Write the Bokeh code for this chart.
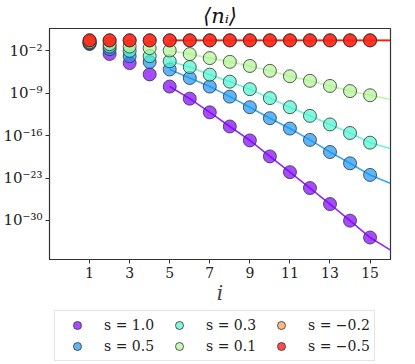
import numpy as np
from bokeh.plotting import figure
from bokeh.layouts import column
from bokeh.models import Range1d, FixedTicker, Legend, LegendItem
from bokeh.embed import file_html
from bokeh.resources import INLINE

# ---- data (log10 of <n_i>) ----
i_vals = list(range(1, 16))
fit_i = list(range(5, 17))

labels = ["s = 1.0", "s = 0.5", "s = 0.3", "s = 0.1", "s = −0.2", "s = −0.5"]
colors = ["#8000ff", "#1996f3", "#4df3ce", "#b2f396", "#ff964f", "#ff0000"]

log_n_s10 = [-0.86, -2.51, -4.01, -5.88, -7.89, -9.89, -12.15, -14.49, -16.79,
             -19.43, -22.03, -24.66, -27.30, -30.04, -32.83]
log_n_s05 = [-0.74, -1.71, -2.87, -3.84, -5.07, -6.48, -7.89, -9.55, -11.30,
             -13.12, -14.83, -16.70, -18.70, -20.57, -22.49]
log_n_s03 = [-0.62, -1.28, -2.00, -2.87, -3.72, -4.66, -5.92, -7.08, -8.32,
             -9.80, -11.30, -12.73, -14.15, -15.56, -17.16]
log_n_s01 = [-0.52, -0.89, -1.28, -1.54, -1.93, -2.53, -3.19, -3.81, -4.49,
             -5.29, -6.19, -6.94, -7.79, -8.64, -9.33]
log_n_sm02 = [-0.26] * 15
log_n_sm05 = [-0.26] * 15

fit_s10 = [-7.89, -9.89, -12.15, -14.49, -16.79, -19.43, -22.03, -24.66,
           -27.30, -30.04, -32.83, -34.88]
fit_s05 = [-5.07, -6.48, -7.89, -9.55, -11.30, -13.12, -14.83, -16.70,
           -18.70, -20.57, -22.49, -23.86]
fit_s03 = [-3.72, -4.66, -5.92, -7.08, -8.32, -9.80, -11.30, -12.73,
           -14.15, -15.56, -17.16, -18.12]
fit_s01 = [-1.93, -2.53, -3.19, -3.81, -4.49, -5.29, -6.19, -6.94,
           -7.79, -8.64, -9.33, -10.00]
fit_sm02 = [-0.26] * 12
fit_sm05 = [-0.26] * 12

points = [log_n_s10, log_n_s05, log_n_s03, log_n_s01, log_n_sm02, log_n_sm05]
fits = [fit_s10, fit_s05, fit_s03, fit_s01, fit_sm02, fit_sm05]

y_ticks = [1e-2, 1e-9, 1e-16, 1e-23, 1e-30]
y_tick_labels = ["10⁻²", "10⁻⁹", "10⁻¹⁶", "10⁻²³", "10⁻³⁰"]
x_ticks = [1, 3, 5, 7, 9, 11, 13, 15]

SERIF = "DejaVu Serif"

p = figure(width=400, height=307, y_axis_type="log",
           x_range=Range1d(-1, 16.02),
           y_range=Range1d(10 ** -36.46, 10 ** 1.70),
           output_backend="svg", toolbar_location=None,
           min_border_left=46, min_border_right=10, min_border_top=10,
           min_border_bottom=0)

p.title.text = "⟨nᵢ⟩"
p.title.align = "center"
p.title.text_font = SERIF
p.title.text_font_style = "italic"
p.title.text_font_size = "21px"
p.title.text_color = "#111111"
p.title.standoff = 2

p.grid.visible = False
p.outline_line_color = "#333333"
p.outline_line_width = 1.2

for ax in (p.xaxis, p.yaxis):
    ax.axis_line_color = "#333333"
    ax.major_tick_line_color = "#333333"
    ax.major_tick_out = 4
    ax.major_tick_in = 0
    ax.minor_tick_line_color = None
    ax.major_label_text_font = SERIF
    ax.major_label_text_font_size = "14px"
    ax.major_label_text_color = "#222222"
    ax.major_label_standoff = 3
p.yaxis.major_label_text_font_size = "15px"

p.xaxis.ticker = FixedTicker(ticks=x_ticks)
p.yaxis.ticker = FixedTicker(ticks=y_ticks, minor_ticks=[])
p.yaxis.major_label_overrides = dict(zip(y_ticks, y_tick_labels))
p.xaxis.axis_label = "i"
p.xaxis.axis_label_text_font = SERIF
p.xaxis.axis_label_text_font_style = "italic"
p.xaxis.axis_label_text_font_size = "20px"
p.xaxis.axis_label_standoff = 0

for col, ft in zip(colors, fits):
    p.line(fit_i, 10 ** np.array(ft), line_color=col, line_width=1.6, line_alpha=0.85)
for col, pts in zip(colors, points):
    p.scatter(i_vals, 10 ** np.array(pts), size=13, fill_color=col,
              fill_alpha=0.7, line_color="#333333", line_alpha=0.8,
              line_width=1)

# ---- legend in its own small figure below (its data lie outside its ranges) ----
lg = figure(width=400, height=55, output_backend="svg", toolbar_location=None,
            x_range=Range1d(100, 101), y_range=Range1d(100, 101),
            x_axis_location=None, y_axis_location=None,
            min_border=0, outline_line_color=None)
lg.grid.visible = False
leg_renderers = []
for col, pts in zip(colors, points):
    r = lg.scatter(i_vals, pts, size=13, fill_color=col, fill_alpha=0.7,
                   line_color="#333333", line_alpha=0.8, line_width=1)
    leg_renderers.append(r)

items = [LegendItem(label=lab, renderers=[r]) for lab, r in zip(labels, leg_renderers)]
legend = Legend(items=items, orientation="vertical", ncols=3,
                location=(5, 1),
                label_text_font=SERIF, label_text_font_size="14px",
                label_text_color="#222222",
                glyph_width=36, glyph_height=20, label_standoff=9,
                label_width=56, spacing=1, padding=4, margin=0,
                border_line_color="#cccccc", border_line_width=1,
                background_fill_color="white")
lg.add_layout(legend, "center")

layout = column(p, lg, spacing=0)
open("out.html", "w").write(file_html(layout, INLINE))
